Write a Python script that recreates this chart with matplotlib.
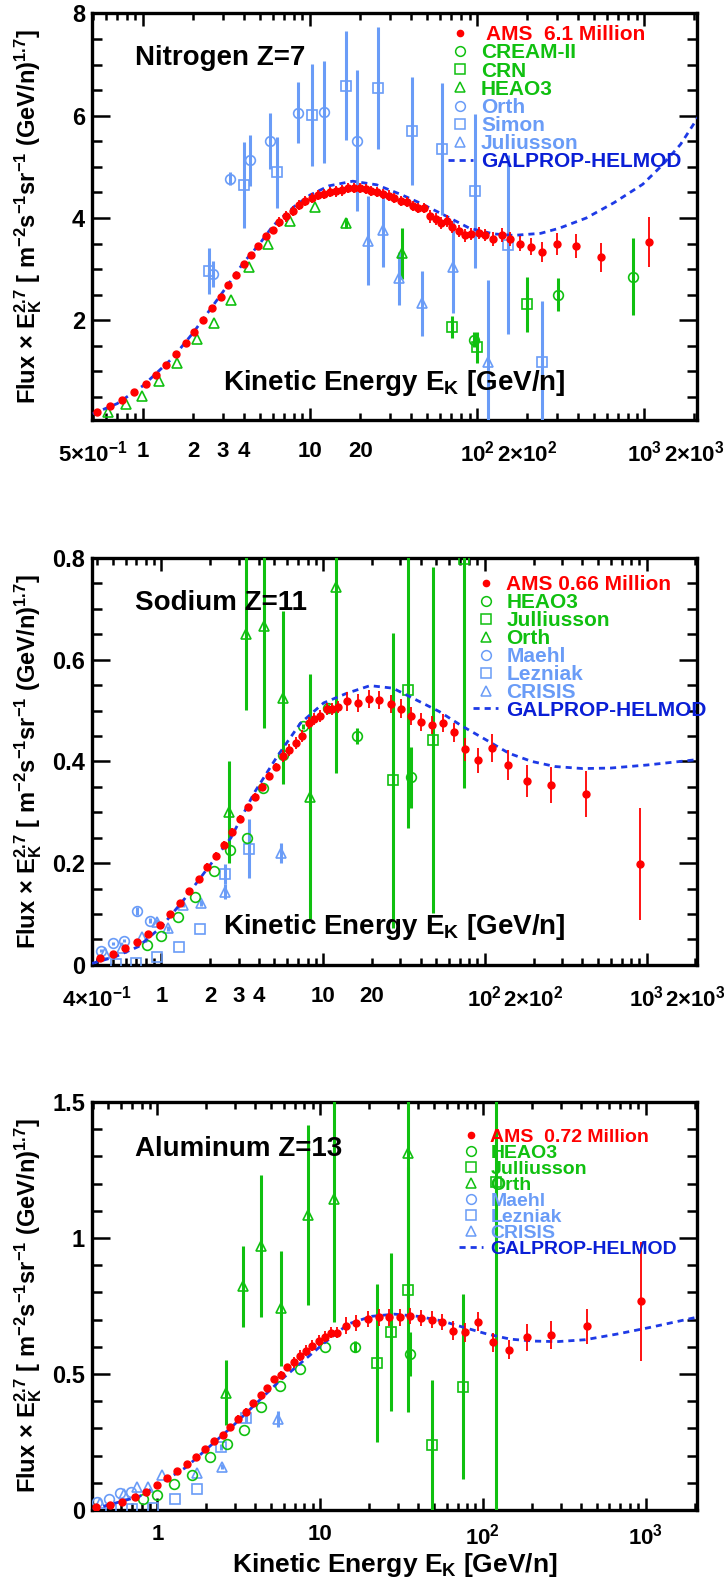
import numpy as np
import matplotlib
matplotlib.use("Agg")
import matplotlib.pyplot as plt
from matplotlib.lines import Line2D
from matplotlib.ticker import LogLocator, FuncFormatter, MultipleLocator

plt.rcParams['font.family'] = ['Liberation Sans', 'DejaVu Sans']
plt.rcParams['font.weight'] = 'bold'
plt.rcParams['axes.labelweight'] = 'bold'
plt.rcParams['mathtext.fontset'] = 'custom'
plt.rcParams['mathtext.rm'] = 'Liberation Sans:bold'
plt.rcParams['mathtext.it'] = 'Liberation Sans:bold'
plt.rcParams['mathtext.bf'] = 'Liberation Sans:bold'
plt.rcParams['mathtext.sf'] = 'Liberation Sans:bold'
plt.rcParams['mathtext.default'] = 'rm'

RED = '#ff0000'
GREEN = '#10c010'
LBLUE = '#6a9cf7'
DBLUE = '#0a1fd6'
LINEB = '#1e3ae6'

# ---------------- Nitrogen ----------------
n_ams_e = [0.529, 0.634, 0.753, 0.885, 1.04, 1.20, 1.37, 1.58, 1.80, 2.02, 2.29, 2.57, 2.91,
           3.22, 3.59, 4.01, 4.45, 4.90, 5.43, 5.98, 6.54, 7.16, 7.88, 8.58, 9.38, 10.2, 11.1,
           12.1, 13.2, 14.3, 15.6, 16.8, 18.2, 19.8, 21.5, 23.2, 25.2, 27.3, 29.5, 32.0, 34.9,
           37.9, 41.2, 44.5, 48.0, 51.9, 56.4, 60.9, 65.8, 71.1, 77.8, 84.1, 92.5, 102, 112,
           125, 140, 158, 181, 210, 246, 300, 391, 550, 1066]
n_ams_v = [0.21, 0.315, 0.446, 0.60, 0.754, 0.93, 1.13, 1.34, 1.56, 1.77, 2.00, 2.24, 2.46,
           2.68, 2.89, 3.10, 3.28, 3.46, 3.64, 3.77, 3.92, 4.03, 4.14, 4.25, 4.34, 4.39, 4.45,
           4.47, 4.51, 4.52, 4.54, 4.58, 4.59, 4.58, 4.56, 4.53, 4.51, 4.47, 4.44, 4.39, 4.34,
           4.31, 4.23, 4.20, 4.19, 4.03, 3.98, 3.90, 3.94, 3.82, 3.74, 3.66, 3.69, 3.71, 3.67,
           3.59, 3.67, 3.59, 3.50, 3.44, 3.33, 3.49, 3.45, 3.23, 3.53]
n_ams_err = [0.02] * 14 + [0.05] * 6 + [0.1] * 25 + [0.12] * 10 + [0.14] * 4 + \
            [0.16, 0.2, 0.21, 0.24, 0.28, 0.48]

n_gal_e = [0.5, 0.7, 1, 1.5, 2, 3, 4, 5, 6, 8, 10, 13, 18, 25, 35, 45, 65, 90, 125, 165,
           240, 310, 450, 660, 980, 1270, 1650, 2100]
n_gal_v = [0.17, 0.37, 0.72, 1.26, 1.76, 2.55, 3.13, 3.50, 3.85, 4.22, 4.45, 4.63, 4.72,
           4.65, 4.46, 4.30, 4.04, 3.80, 3.69, 3.66, 3.70, 3.80, 4.00, 4.30, 4.66, 5.02,
           5.44, 5.97]

n_cream_e = [95.6, 304, 851]
n_cream_v = [1.62, 2.50, 2.85]
n_cream_err = [0.15, 0.32, 0.75]
n_crn_e = [71.1, 100.4, 200]
n_crn_v = [1.87, 1.47, 2.31]
n_crn_err = [0.22, 0.3, 0.53]
n_heao_e = [0.621, 0.788, 0.987, 1.24, 1.59, 2.10, 2.66, 3.35, 4.31, 5.61, 7.54, 10.7, 16.3, 35.7]
n_heao_v = [0.21, 0.36, 0.525, 0.82, 1.17, 1.63, 1.95, 2.39, 3.04, 3.49, 3.95, 4.22, 3.90, 3.31]
n_heao_err = [0] * 12 + [0.1, 0.5]
n_orth_e = [2.61, 3.31, 4.34, 5.75, 8.41, 12.1, 19.0]
n_orth_v = [2.90, 4.77, 5.13, 5.50, 6.06, 6.07, 5.51]
n_orth_err = [0.25, 0.12, 0.5, 0.55, 0.6, 1.0, 1.38]
n_simon_e = [2.48, 4.01, 6.34, 10.2, 16.3, 25.4, 40.6, 61.5, 97.3, 154, 244]
n_simon_v = [2.96, 4.64, 4.89, 6.01, 6.59, 6.54, 5.70, 5.35, 4.53, 3.48, 1.18]
n_simon_err = [0.45, 0.84, 0.7, 1.0, 1.06, 1.19, 1.05, 1.3, 1.5, 1.75, 1.2]
n_jul_e = [22.1, 27.3, 34.2, 46.7, 72.1, 116]
n_jul_v = [3.56, 3.77, 2.82, 2.33, 3.05, 1.18]
n_jul_err = [0.87, 0.73, 0.52, 0.63, 0.9, 1.6]

# ---------------- Sodium ----------------
na_ams_e = [0.416, 0.500, 0.598, 0.705, 0.831, 0.974, 1.126, 1.302, 1.486, 1.695, 1.92, 2.16,
            2.45, 2.74, 3.05, 3.41, 3.79, 4.21, 4.65, 5.11, 5.63, 6.18, 6.78, 7.43, 8.15, 8.82,
            9.61, 10.5, 11.3, 12.4, 14.0, 16.5, 19.2, 22.2, 26.2, 30.1, 34.8, 40.3, 47.1, 55.2,
            64.7, 75.8, 91.2, 110, 139, 181, 255, 424, 906]
na_ams_v = [0.0144, 0.0216, 0.0328, 0.0452, 0.061, 0.0787, 0.1003, 0.1226, 0.1462, 0.169,
            0.193, 0.214, 0.236, 0.262, 0.287, 0.310, 0.331, 0.350, 0.372, 0.390, 0.410, 0.423,
            0.437, 0.450, 0.475, 0.483, 0.490, 0.503, 0.503, 0.507, 0.518, 0.515, 0.523, 0.521,
            0.513, 0.504, 0.489, 0.477, 0.472, 0.475, 0.457, 0.424, 0.402, 0.426, 0.393, 0.362,
            0.354, 0.336, 0.199]
na_ams_err = [0.003] * 10 + [0.007] * 10 + [0.012] * 10 + [0.018] * 11 + \
             [0.023, 0.024, 0.028, 0.03, 0.031, 0.035, 0.046, 0.11]

na_gal_e = [0.372, 0.517, 0.72, 1.0, 1.39, 1.93, 2.69, 3.74, 5.20, 7.23, 10.06, 14.0, 19.5,
            27.0, 37.6, 52.3, 72.7, 101, 141, 195, 272, 403, 600, 1008, 1975]
na_gal_v = [0.003, 0.016, 0.036, 0.075, 0.13, 0.19, 0.25, 0.338, 0.41, 0.475, 0.515, 0.534,
            0.549, 0.544, 0.521, 0.498, 0.469, 0.443, 0.416, 0.400, 0.390, 0.386, 0.387,
            0.393, 0.403]

na_heao_e = [0.81, 1.0, 1.26, 1.61, 2.11, 2.66, 3.39, 4.27, 5.67, 7.48, 10.7, 16.2, 34.8]
na_heao_v = [0.039, 0.057, 0.094, 0.133, 0.184, 0.225, 0.249, 0.348, 0.412, 0.469, 0.505,
             0.450, 0.369]
na_heao_err = [0] * 7 + [0.005, 0.005, 0.005, 0.008, 0.015, 0.06]
na_jul_e = [27.1, 33.7, 47.5, 74.3]
na_jul_v = [0.363, 0.540, 0.443, 0.797]
na_jul_err = [0.29, 0.27, 0.34, 0.45]
na_orth_e = [2.60, 3.32, 4.33, 5.67, 8.26, 12.0]
na_orth_v = [0.300, 0.651, 0.666, 0.525, 0.331, 0.743]
na_orth_err = [0.10, 0.15, 0.20, 0.17, 0.24, 0.366]
na_maehl_e = [0.424, 0.503, 0.590, 0.705, 0.848]
na_maehl_v = [0.028, 0.043, 0.048, 0.106, 0.087]
na_maehl_err = [0.003, 0.003, 0.003, 0.008, 0.005]
na_lez_e = [0.524, 0.70, 0.942, 1.29, 1.73, 2.47, 3.50]
na_lez_v = [0.0013, 0.0046, 0.015, 0.035, 0.071, 0.179, 0.228]
na_lez_err = [0, 0, 0, 0, 0, 0.02, 0.058]
na_cri_e = [0.447, 0.571, 0.753, 0.936, 1.10, 1.36, 1.75, 2.47, 5.49]
na_cri_v = [0.024, 0.033, 0.054, 0.085, 0.072, 0.118, 0.121, 0.144, 0.220]
na_cri_err = [0, 0, 0, 0.005, 0.005, 0.005, 0.006, 0.015, 0.02]

# ---------------- Aluminum ----------------
al_ams_e = [0.420, 0.512, 0.607, 0.725, 0.849, 0.993, 1.148, 1.326, 1.51, 1.73, 1.97, 2.23,
            2.51, 2.80, 3.14, 3.48, 3.87, 4.30, 4.74, 5.23, 5.74, 6.29, 6.90, 7.56, 8.23, 8.97,
            9.77, 10.7, 11.7, 12.7, 14.4, 16.7, 19.6, 22.9, 26.5, 30.8, 35.8, 41.7, 48.5, 56.0,
            65.6, 77.8, 93.5, 115, 144, 186, 264, 438, 937]
al_ams_v = [0.011, 0.020, 0.031, 0.048, 0.068, 0.091, 0.117, 0.144, 0.171, 0.195, 0.223,
            0.252, 0.276, 0.306, 0.336, 0.362, 0.393, 0.422, 0.448, 0.481, 0.498, 0.524, 0.543,
            0.567, 0.586, 0.604, 0.622, 0.637, 0.651, 0.651, 0.678, 0.687, 0.702, 0.708, 0.708,
            0.708, 0.712, 0.705, 0.700, 0.692, 0.659, 0.653, 0.692, 0.616, 0.589, 0.635, 0.644,
            0.675, 0.767]
al_ams_err = [0.005] * 12 + [0.012] * 10 + [0.02] * 8 + [0.03] * 10 + \
             [0.035, 0.035, 0.035, 0.035, 0.035, 0.05, 0.052, 0.065, 0.22]

al_gal_e = [0.40, 0.774, 1.49, 2.88, 5.55, 10.7, 14.9, 20.7, 28.6, 39.9, 55.2, 76.8, 106,
            148, 206, 286, 425, 670, 1060, 2040]
al_gal_v = [0.0025, 0.05, 0.156, 0.307, 0.471, 0.616, 0.684, 0.712, 0.72, 0.712, 0.696,
            0.671, 0.647, 0.628, 0.621, 0.619, 0.626, 0.647, 0.671, 0.708]

al_heao_e = [0.811, 1.0, 1.27, 1.62, 2.11, 2.68, 3.39, 4.35, 5.66, 7.56, 10.7, 16.4, 35.4]
al_heao_v = [0.042, 0.055, 0.097, 0.128, 0.195, 0.244, 0.295, 0.379, 0.457, 0.520, 0.601,
             0.601, 0.573]
al_heao_err = [0] * 11 + [0.02, 0.08]
al_jul_e = [22.3, 27.4, 34.5, 48.5, 75.8, 120]
al_jul_v = [0.539, 0.653, 0.810, 0.238, 0.454, 1.205]
al_jul_err = [0.29, 0.29, 0.45, 0.24, 0.34, 1.3]
al_orth_e = [2.64, 3.35, 4.35, 5.78, 8.40, 12.2, 34.5]
al_orth_v = [0.432, 0.822, 0.970, 0.741, 1.085, 1.142, 1.313]
al_orth_err = [0.12, 0.15, 0.26, 0.21, 0.33, 0.45, 0.55]
al_maehl_e = [0.423, 0.505, 0.587, 0.692]
al_maehl_v = [0.029, 0.042, 0.064, 0.066]
al_lez_e = [0.52, 0.70, 0.94, 1.29, 1.76, 2.47, 3.50]
al_lez_v = [0.0, 0.003, 0.009, 0.039, 0.079, 0.232, 0.340]
al_lez_err = [0, 0, 0, 0, 0, 0.01, 0.02]
al_cri_e = [0.445, 0.62, 0.747, 0.88, 1.06, 1.75, 2.49, 5.54]
al_cri_v = [0.026, 0.06, 0.086, 0.085, 0.129, 0.136, 0.160, 0.334]
al_cri_err = [0, 0, 0, 0, 0, 0, 0.01, 0.03]

top_xlabels = {0.5: '5×10$^{-1}$', 1: '1', 2: '2', 3: '3', 4: '4', 10: '10', 20: '20',
               100: '10$^{2}$', 200: '2×10$^{2}$', 1000: '10$^{3}$', 2000: '2×10$^{3}$'}
mid_xlabels = {0.4: '4×10$^{-1}$', 1: '1', 2: '2', 3: '3', 4: '4', 10: '10', 20: '20',
               100: '10$^{2}$', 200: '2×10$^{2}$', 1000: '10$^{3}$', 2000: '2×10$^{3}$'}
bot_xlabels = {1: '1', 10: '10', 100: '10$^{2}$', 1000: '10$^{3}$'}

YLABEL = 'Flux × E$_{K}^{2.7}$ [ m$^{-2}$s$^{-1}$sr$^{-1}$ (GeV/n)$^{1.7}$]'
XLABEL = 'Kinetic Energy E$_{K}$ [GeV/n]'


def make_fmt(labels):
    def f(x, pos):
        for k, s in labels.items():
            if abs(x / k - 1) < 1e-6:
                return s
        return ''
    return FuncFormatter(f)


def style_axes(ax, xlim, ylim, ymaj, ymin, labels, xpad=15):
    ax.set_xscale('log')
    ax.set_xlim(*xlim)
    ax.set_ylim(*ylim)
    ax.xaxis.set_major_locator(LogLocator(base=10, numticks=100))
    ax.xaxis.set_minor_locator(LogLocator(base=10, subs=np.arange(2, 10), numticks=100))
    ax.xaxis.set_major_formatter(make_fmt(labels))
    ax.xaxis.set_minor_formatter(make_fmt(labels))
    ax.yaxis.set_major_locator(MultipleLocator(ymaj))
    ax.yaxis.set_minor_locator(MultipleLocator(ymin))
    ax.tick_params(which='both', direction='in', top=True, right=True, width=1.8)
    ax.tick_params(axis='y', labelsize=17)
    ax.tick_params(axis='x', which='both', labelsize=16)
    ax.tick_params(axis='x', which='major', length=9, pad=xpad)
    ax.tick_params(axis='x', which='minor', length=5, pad=xpad)
    ax.tick_params(axis='y', which='major', length=13, pad=5)
    ax.tick_params(axis='y', which='minor', length=7)
    for sp in ax.spines.values():
        sp.set_linewidth(2.4)
    ax.set_ylabel(YLABEL, fontsize=17, fontweight='bold')
    ax.yaxis.set_label_coords(-0.08, 0.5)


def eb(ax, e, v, err, marker, color, ms=7):
    ax.errorbar(e, v, yerr=err, fmt=marker, ms=ms, mfc='none', mec=color, mew=1.2,
                ecolor=color, elinewidth=2.2, capsize=0, zorder=3)


def ams(ax, e, v, err):
    ax.errorbar(e, v, yerr=err, fmt='o', ms=5, color=RED, ecolor=RED, elinewidth=1.3,
                capsize=0, zorder=5)


def gal(ax, e, v):
    ax.plot(e, v, color=LINEB, lw=2.0, ls=(0, (2.2, 1.8)), zorder=4)


def legend(ax, labels, colors, markers, anchor, fs, spacing):
    handles = []
    for m, c in zip(markers, colors):
        if m == 'dot':
            handles.append(Line2D([], [], ls='none', marker='o', ms=4.5, color=RED))
        elif m == 'line':
            handles.append(Line2D([], [], color=LINEB, lw=2.0, ls=(0, (2.2, 1.8))))
        else:
            handles.append(Line2D([], [], ls='none', marker=m, ms=7, mfc='none',
                                  mec=c, mew=1.1))
    lg = ax.legend(handles, labels, loc='upper left', bbox_to_anchor=anchor, frameon=False,
                   prop={'size': fs, 'weight': 'bold'}, handlelength=1.2,
                   handletextpad=0.4, labelspacing=spacing, borderpad=0, borderaxespad=0)
    for t, c in zip(lg.get_texts(), colors):
        t.set_color(c)


fig = plt.figure(figsize=(7.24, 15.86), dpi=100)
ax1 = fig.add_axes([0.1271, 0.7352, 0.8356, 0.2563])
ax2 = fig.add_axes([0.1271, 0.3916, 0.8356, 0.2566])
ax3 = fig.add_axes([0.1271, 0.0479, 0.8356, 0.2573])

# Nitrogen
style_axes(ax1, (0.495, 2070), (0.05, 8), 2, 0.5, top_xlabels)
eb(ax1, n_simon_e, n_simon_v, n_simon_err, 's', LBLUE)
eb(ax1, n_orth_e, n_orth_v, n_orth_err, 'o', LBLUE)
eb(ax1, n_jul_e, n_jul_v, n_jul_err, '^', LBLUE)
eb(ax1, n_cream_e, n_cream_v, n_cream_err, 'o', GREEN)
eb(ax1, n_crn_e, n_crn_v, n_crn_err, 's', GREEN)
eb(ax1, n_heao_e, n_heao_v, n_heao_err, '^', GREEN)
gal(ax1, n_gal_e, n_gal_v)
ams(ax1, n_ams_e, n_ams_v, n_ams_err)
ax1.text(0.071, 0.89, 'Nitrogen Z=7', transform=ax1.transAxes, fontsize=20,
         ha='left', va='center')
ax1.text(0.50, 0.09, XLABEL, transform=ax1.transAxes, fontsize=20, ha='center', va='center')
legend(ax1, [' AMS  6.1 Million', 'CREAM-II', 'CRN', 'HEAO3', 'Orth', 'Simon', 'Juliusson',
             'GALPROP-HELMOD'],
       [RED, GREEN, GREEN, GREEN, LBLUE, LBLUE, LBLUE, DBLUE],
       ['dot', 'o', 's', '^', 'o', 's', '^', 'line'], (0.588, 0.971), 15, -0.04)

# Sodium
style_axes(ax2, (0.372, 2050), (0, 0.8), 0.2, 0.05, mid_xlabels)
eb(ax2, na_maehl_e, na_maehl_v, na_maehl_err, 'o', LBLUE)
eb(ax2, na_lez_e, na_lez_v, na_lez_err, 's', LBLUE)
eb(ax2, na_cri_e, na_cri_v, na_cri_err, '^', LBLUE)
eb(ax2, na_heao_e, na_heao_v, na_heao_err, 'o', GREEN)
eb(ax2, na_jul_e, na_jul_v, na_jul_err, 's', GREEN)
eb(ax2, na_orth_e, na_orth_v, na_orth_err, '^', GREEN)
gal(ax2, na_gal_e, na_gal_v)
ams(ax2, na_ams_e, na_ams_v, na_ams_err)
ax2.yaxis.set_major_formatter(FuncFormatter(lambda y, p: '0' if y == 0 else f'{y:.1f}'))
ax2.text(0.071, 0.889, 'Sodium Z=11', transform=ax2.transAxes, fontsize=20,
         ha='left', va='center')
ax2.text(0.50, 0.093, XLABEL, transform=ax2.transAxes, fontsize=20, ha='center', va='center')
legend(ax2, ['AMS 0.66 Million', 'HEAO3', 'Julliusson', 'Orth', 'Maehl', 'Lezniak', 'CRISIS',
             'GALPROP-HELMOD'],
       [RED, GREEN, GREEN, GREEN, LBLUE, LBLUE, LBLUE, DBLUE],
       ['dot', 'o', 's', '^', 'o', 's', '^', 'line'], (0.630, 0.958), 15, -0.05)

# Aluminum
style_axes(ax3, (0.396, 2070), (0, 1.5), 0.5, 0.1, bot_xlabels, xpad=10)
eb(ax3, al_maehl_e, al_maehl_v, None, 'o', LBLUE)
eb(ax3, al_lez_e, al_lez_v, al_lez_err, 's', LBLUE)
eb(ax3, al_cri_e, al_cri_v, al_cri_err, '^', LBLUE)
eb(ax3, al_heao_e, al_heao_v, al_heao_err, 'o', GREEN)
eb(ax3, al_jul_e, al_jul_v, al_jul_err, 's', GREEN)
eb(ax3, al_orth_e, al_orth_v, al_orth_err, '^', GREEN)
gal(ax3, al_gal_e, al_gal_v)
ams(ax3, al_ams_e, al_ams_v, al_ams_err)
ax3.yaxis.set_major_formatter(FuncFormatter(lambda y, p: '0' if y == 0 else ('1' if y == 1 else f'{y:g}')))
ax3.text(0.071, 0.885, 'Aluminum Z=13', transform=ax3.transAxes, fontsize=20,
         ha='left', va='center')
ax3.set_xlabel(XLABEL, fontsize=19, labelpad=1, fontweight='bold')
legend(ax3, ['AMS  0.72 Million', 'HEAO3', 'Julliusson', 'Orth', 'Maehl', 'Lezniak', 'CRISIS',
             'GALPROP-HELMOD'],
       [RED, GREEN, GREEN, GREEN, LBLUE, LBLUE, LBLUE, DBLUE],
       ['dot', 'o', 's', '^', 'o', 's', '^', 'line'], (0.607, 0.936), 14, -0.083)

fig.savefig('out.png', dpi=100)
